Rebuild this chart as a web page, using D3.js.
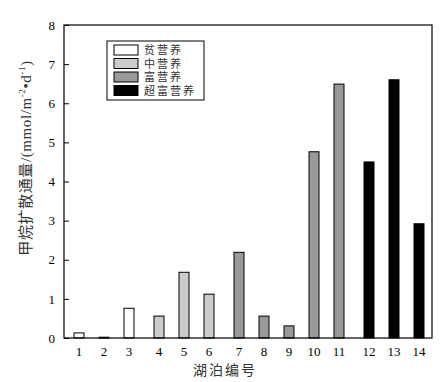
<!doctype html>
<html lang="zh">
<head>
<meta charset="UTF-8">
<title>甲烷扩散通量</title>
<style>
    body { margin: 0; background: #fff; }
    text { font-family: "Liberation Serif", "Noto Sans CJK SC", serif; }
</style>
</head>
<body>
<div class="canvas"></div>
<script src="https://d3js.org/d3.v7.min.js"></script>
<script>
    // lake ids, their trophic class and flux values
    const lakes = ['1', '2', '3', '4', '5', '6', '7', '8', '9', '10', '11', '12', '13', '14'];
    const groups = [0, 0, 0, 1, 1, 1, 2, 2, 2, 2, 2, 3, 3, 3];
    const flux = [0.13, 0.02, 0.76, 0.56, 1.68, 1.12, 2.19, 0.56, 0.31, 4.76, 6.49, 4.50, 6.60, 2.92];
    const groupNames = ['贫营养', '中营养', '富营养', '超富营养'];
    const groupColors = ['#ffffff', '#cccccc', '#999999', '#000000'];
    const yTicks = [0, 1, 2, 3, 4, 5, 6, 7, 8];

    const svgWidth = 441;
    const svgHeight = 382;
    const margin = { top: 25, right: 9, bottom: 44, left: 64 };
    const graphWidth = svgWidth - margin.left - margin.right;
    const graphHeight = svgHeight - margin.top - margin.bottom;

    const svg = d3.select('.canvas').append('svg')
        .attr('width', svgWidth)
        .attr('height', svgHeight);

    const graph = svg.append('g')
        .attr('transform', `translate(${margin.left}, ${margin.top})`);

    // bars sit at index + a small gap after each trophic group
    const pos = (d, i) => i + 1 + groups[i] * 0.2;
    const x = d3.scaleLinear().domain([0.4, 15.12]).range([0, graphWidth]);
    const y = d3.scaleLinear().domain([0, 8]).range([graphHeight, 0]);
    const barW = 10;

    graph.selectAll('rect.bar')
        .data(flux)
        .enter().append('rect')
        .attr('class', 'bar')
        .attr('x', (d, i) => x(pos(d, i)) - barW / 2)
        .attr('y', d => y(d))
        .attr('width', barW)
        .attr('height', d => graphHeight - y(d))
        .attr('fill', (d, i) => groupColors[groups[i]])
        .attr('stroke', '#000')
        .attr('stroke-width', 1);

    // frame
    graph.append('rect')
        .attr('width', graphWidth)
        .attr('height', graphHeight)
        .attr('fill', 'none')
        .attr('stroke', '#000')
        .attr('stroke-width', 1.2);

    // y axis, ticks inward
    const yAxis = d3.axisLeft(y).tickValues(yTicks).tickSize(-5).tickPadding(9);
    const yg = graph.append('g').call(yAxis);
    yg.select('.domain').remove();
    yg.selectAll('text').attr('font-size', 13).attr('font-family', 'Liberation Serif');

    // x labels
    graph.selectAll('text.xl')
        .data(lakes)
        .enter().append('text')
        .attr('class', 'xl')
        .attr('x', (d, i) => x(pos(d, i)))
        .attr('y', graphHeight + 18)
        .attr('text-anchor', 'middle')
        .attr('font-size', 13)
        .text(d => d);

    svg.append('text')
        .attr('x', 225)
        .attr('y', 375)
        .attr('text-anchor', 'middle')
        .attr('font-size', 14)
        .attr('letter-spacing', 2)
        .attr('fill', '#333')
        .text('湖泊编号');

    const yl = svg.append('text')
        .attr('transform', 'translate(31, 158) rotate(-90)')
        .attr('text-anchor', 'middle')
        .attr('font-size', 15)
        .attr('letter-spacing', 0.6)
        .attr('fill', '#333');
    yl.append('tspan').text('甲烷扩散通量/(mmol/m');
    yl.append('tspan').attr('dy', -6).attr('font-size', 9).text('-2');
    yl.append('tspan').attr('dy', 6).text('•d');
    yl.append('tspan').attr('dy', -6).attr('font-size', 9).text('-1');
    yl.append('tspan').attr('dy', 6).text(')');

    // legend
    const legend = svg.append('g').attr('transform', 'translate(107, 41)');
    legend.append('rect')
        .attr('width', 97)
        .attr('height', 59)
        .attr('fill', '#fff')
        .attr('stroke', '#000')
        .attr('stroke-width', 1);
    const items = legend.selectAll('g.item')
        .data(groupNames)
        .enter().append('g')
        .attr('class', 'item')
        .attr('transform', (d, i) => `translate(7, ${4 + i * 13.5})`);
    items.append('rect')
        .attr('width', 24)
        .attr('height', 10)
        .attr('fill', (d, i) => groupColors[i])
        .attr('stroke', '#000')
        .attr('stroke-width', 1);
    items.append('text')
        .attr('x', 30)
        .attr('y', 9)
        .attr('font-size', 11)
        .attr('fill', '#333')
        .attr('letter-spacing', 2)
        .text(d => d);
</script>
</body>
</html>
